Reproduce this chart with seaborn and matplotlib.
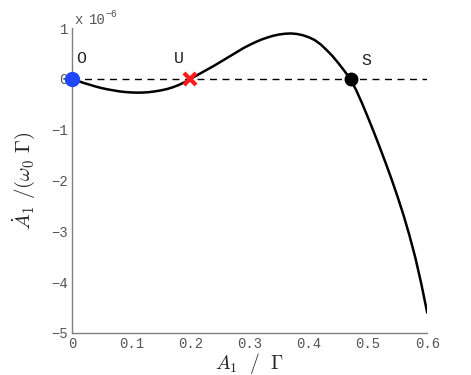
import numpy as np
import pandas as pd
import matplotlib
matplotlib.use('Agg')
import matplotlib.pyplot as plt
import seaborn as sns

sns.set_style('white')
plt.rcParams['mathtext.fontset'] = 'cm'
plt.rcParams['font.family'] = ['Liberation Mono', 'DejaVu Sans Mono']

# amplitude A1/Gamma and rate dA1/(w0 Gamma) in units of 1e-6
amp = [0.00, 0.01, 0.02, 0.03, 0.04, 0.05, 0.06, 0.07, 0.08, 0.09,
       0.10, 0.11, 0.12, 0.13, 0.14, 0.15, 0.16, 0.17, 0.18, 0.19,
       0.20, 0.21, 0.22, 0.23, 0.24, 0.25, 0.26, 0.27, 0.28, 0.29,
       0.30, 0.31, 0.32, 0.33, 0.34, 0.35, 0.36, 0.37, 0.38, 0.39,
       0.40, 0.41, 0.42, 0.43, 0.44, 0.45, 0.46, 0.47, 0.48, 0.49,
       0.50, 0.51, 0.52, 0.53, 0.54, 0.55, 0.56, 0.57, 0.58, 0.59, 0.60]
rate = [0.0, -0.04, -0.08, -0.115, -0.15, -0.18, -0.205, -0.225, -0.245, -0.258,
        -0.266, -0.27, -0.268, -0.26, -0.245, -0.225, -0.20, -0.165, -0.12, -0.065,
        0.0, 0.065, 0.13, 0.195, 0.26, 0.33, 0.40, 0.47, 0.54, 0.61,
        0.67, 0.725, 0.775, 0.815, 0.85, 0.875, 0.89, 0.895, 0.885, 0.86,
        0.82, 0.765, 0.68, 0.57, 0.45, 0.31, 0.16, 0.0, -0.22, -0.48,
        -0.76, -1.05, -1.35, -1.66, -1.98, -2.32, -2.68, -3.08, -3.52, -4.03, -4.6]

# fixed points
fp_names = ['O', 'U', 'S']
fp_amp = [0.0, 0.2, 0.471]

df = pd.DataFrame({'A1': amp, 'rate': rate})

fig = plt.figure(figsize=(4.71, 3.75), dpi=100)
ax = fig.add_axes([0.153, 0.112, 0.754, 0.813])

ax.plot([0, 0.6], [0, 0], color='black', lw=1.0, ls=(0, (5, 4)), zorder=1)
sns.lineplot(data=df, x='A1', y='rate', color='black', lw=1.8, ax=ax, zorder=2)

ax.plot(fp_amp[0], 0, 'o', color='#1f47ff', ms=10, zorder=4, clip_on=False)
ax.plot(fp_amp[1], 0, 'x', color='#ff1a1a', ms=9, mew=3, zorder=4)
ax.plot(fp_amp[2], 0, 'o', color='black', ms=9, zorder=4)

label_off = [(0.015, 0.40), (0.18, 0.40), (0.497, 0.36)]
for name, (lx, ly) in zip(fp_names, label_off):
    ax.text(lx, ly, name, fontsize=12, color='#222222', ha='center', va='center')

ax.set_xlim(0, 0.6)
ax.set_ylim(-5, 1)
ax.set_xticks([0, 0.1, 0.2, 0.3, 0.4, 0.5, 0.6])
ax.set_xticklabels(['0', '0.1', '0.2', '0.3', '0.4', '0.5', '0.6'])
ax.set_yticks([1, 0, -1, -2, -3, -4, -5])
ax.set_yticklabels(['1', '0', '\u22121', '\u22122', '\u22123', '\u22124', '\u22125'])

for s in ['top', 'right']:
    ax.spines[s].set_visible(False)
for s in ['left', 'bottom']:
    ax.spines[s].set_color('#808080')
    ax.spines[s].set_linewidth(1.0)
ax.tick_params(direction='in', length=4, width=0.8, color='#808080',
               labelsize=10, labelcolor='#555555', pad=3)

ax.set_xlabel(r'$A_1\ \ /\ \ \Gamma$', fontsize=14, labelpad=0)
ax.set_ylabel(r'$\dot{A}_1\ /(\omega_0\ \Gamma)$', fontsize=15, labelpad=10)

fig.text(0.157, 0.946, 'x', fontsize=10, color='#555555', ha='left', va='center')
fig.text(0.188, 0.946, '10', fontsize=10, color='#555555', ha='left', va='center')
fig.text(0.223, 0.962, '\u22126', fontsize=7, color='#555555', ha='left', va='center')

fig.savefig('out.png', dpi=100)
